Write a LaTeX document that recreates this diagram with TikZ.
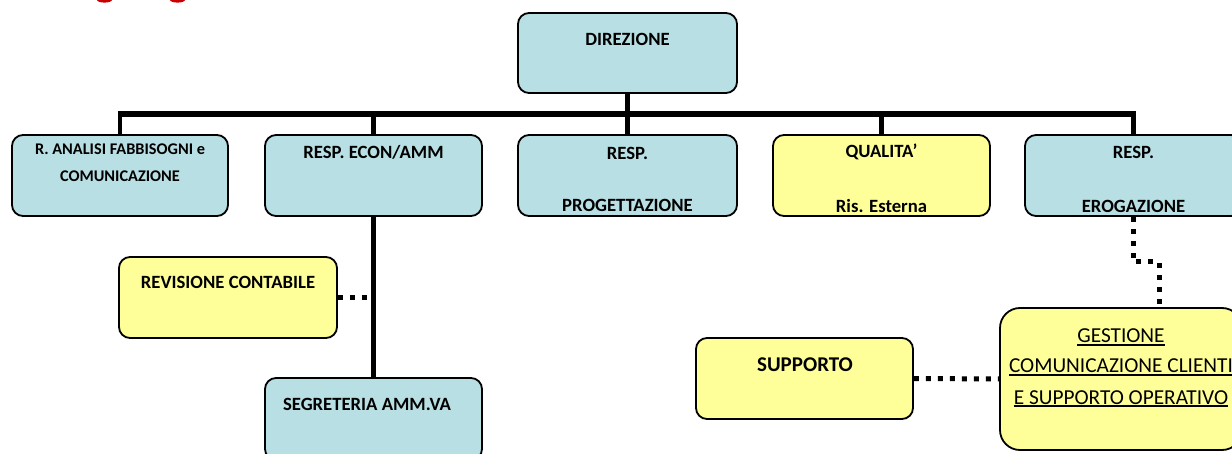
\documentclass[tikz,border=0pt]{standalone}
\usepackage{fontspec}
\setmainfont{Carlito}
\definecolor{boxblue}{RGB}{184,223,227}
\definecolor{boxyellow}{RGB}{255,255,153}
\definecolor{titlered}{RGB}{200,0,0}
\tikzset{
  orgbox/.style={draw=black, line width=1.8pt, rounded corners=11pt, inner sep=0pt},
  bluebox/.style={orgbox, fill=boxblue},
  yellowbox/.style={orgbox, fill=boxyellow},
  lbl/.style={font=\bfseries\fontsize{18.7}{21}\selectfont, inner sep=0pt, anchor=center},
  lblbig/.style={font=\bfseries\fontsize{21}{24}\selectfont, inner sep=0pt, anchor=center},
  lblsmall/.style={font=\bfseries\fontsize{16.3}{19}\selectfont, inner sep=0pt, anchor=center},
  lblreg/.style={font=\fontsize{21.3}{24}\selectfont, inner sep=0pt, anchor=base},
  underl/.style={draw=black, line width=1.4pt},
  solidlink/.style={draw=black, line width=4.5pt},
  buslink/.style={draw=black, line width=6pt},
  dotlink/.style={draw=black, line width=5pt, dash pattern=on 5pt off 7pt},
}
\begin{document}
\begin{tikzpicture}[x=1pt, y=-1pt]
\useasboundingbox (0,0) rectangle (1232,454);
% red fragments of a cut-off heading
\fill[titlered] (104.5,0) ellipse (7.5 and 2.6);
\fill[titlered] (177.5,0) ellipse (7.5 and 2.6);
% boxes
\node[bluebox, minimum width=219pt, minimum height=80pt] (dir) at (627.5,53) {};
\node[bluebox, minimum width=216pt, minimum height=81pt] (ana) at (120,175.5) {};
\node[bluebox, minimum width=217pt, minimum height=81pt] (eco) at (373.5,175.5) {};
\node[bluebox, minimum width=219pt, minimum height=81pt] (prog) at (627.5,175.5) {};
\node[yellowbox, minimum width=217pt, minimum height=81pt] (qual) at (881.5,175.5) {};
\node[bluebox, minimum width=217pt, minimum height=81pt] (erog) at (1133.5,175.5) {};
\node[yellowbox, minimum width=218pt, minimum height=81pt] (rev) at (228,297.5) {};
\node[bluebox, minimum width=217pt, minimum height=82pt] (seg) at (373.5,419) {};
\node[yellowbox, minimum width=217pt, minimum height=81pt] (sup) at (804.5,378.5) {};
\node[yellowbox, minimum width=242pt, minimum height=142pt, rounded corners=20pt] (gest) at (1121,379) {};
% texts
\node[lbl] (tdir) at (627.5,39) {DIREZIONE};
\node[lblsmall] (tana1) at (120,149) {R. ANALISI FABBISOGNI e};
\node[lblsmall] (tana2) at (120,176) {COMUNICAZIONE};
\node[lbl] (teco) at (373.5,152) {RESP. ECON/AMM};
\node[lbl] (tprog1) at (627.5,153) {RESP.};
\node[lbl] (tprog2) at (627.5,205) {PROGETTAZIONE};
\node[lbl] (tqual1) at (881.5,152) {QUALITA’};
\node[lbl] (tqual2) at (881.5,206) {Ris. Esterna};
\node[lbl] (terog1) at (1133.5,152) {RESP.};
\node[lbl] (terog2) at (1133.5,206) {EROGAZIONE};
\node[lbl] (trev) at (228,282) {REVISIONE CONTABILE};
\node[lbl] (tseg) at (367,404) {SEGRETERIA AMM.VA};
\node[lblbig] (tsup) at (805,365) {SUPPORTO};
\node[lblreg] (tgest1) at (1121,343) {GESTIONE};
\node[lblreg] (tgest2) at (1121,373) {COMUNICAZIONE CLIENTI};
\node[lblreg] (tgest3) at (1121,404) {E SUPPORTO OPERATIVO};
\foreach \t in {tgest1,tgest2,tgest3}
  \path[underl] ([yshift=-2pt]\t.base west) -- ([yshift=-2pt]\t.base east);
% connectors
\coordinate (busl) at (117.75,114);
\coordinate (busr) at (1135.75,114);
\path[buslink] (busl) -- (busr);
\path[solidlink] (dir.south) -- (dir.south |- busl);
\path[solidlink] (ana.north) -- (ana.north |- busl);
\path[solidlink] (eco.north) -- (eco.north |- busl);
\path[solidlink] (prog.north) -- (prog.north |- busl);
\path[solidlink] (qual.north) -- (qual.north |- busl);
\path[solidlink] (erog.north) -- (erog.north |- busl);
\path[solidlink] (eco.south) -- (seg.north);
\path[dotlink] (rev.east) -- (rev.east -| eco.south);
\path[dotlink] (sup.east) -- (gest.west);
\coordinate (bend1) at (1133.5,262);
\coordinate (gin) at (1159,308);
\path[dotlink] (erog.south) -- (bend1) -| (gin);
\end{tikzpicture}
\end{document}
